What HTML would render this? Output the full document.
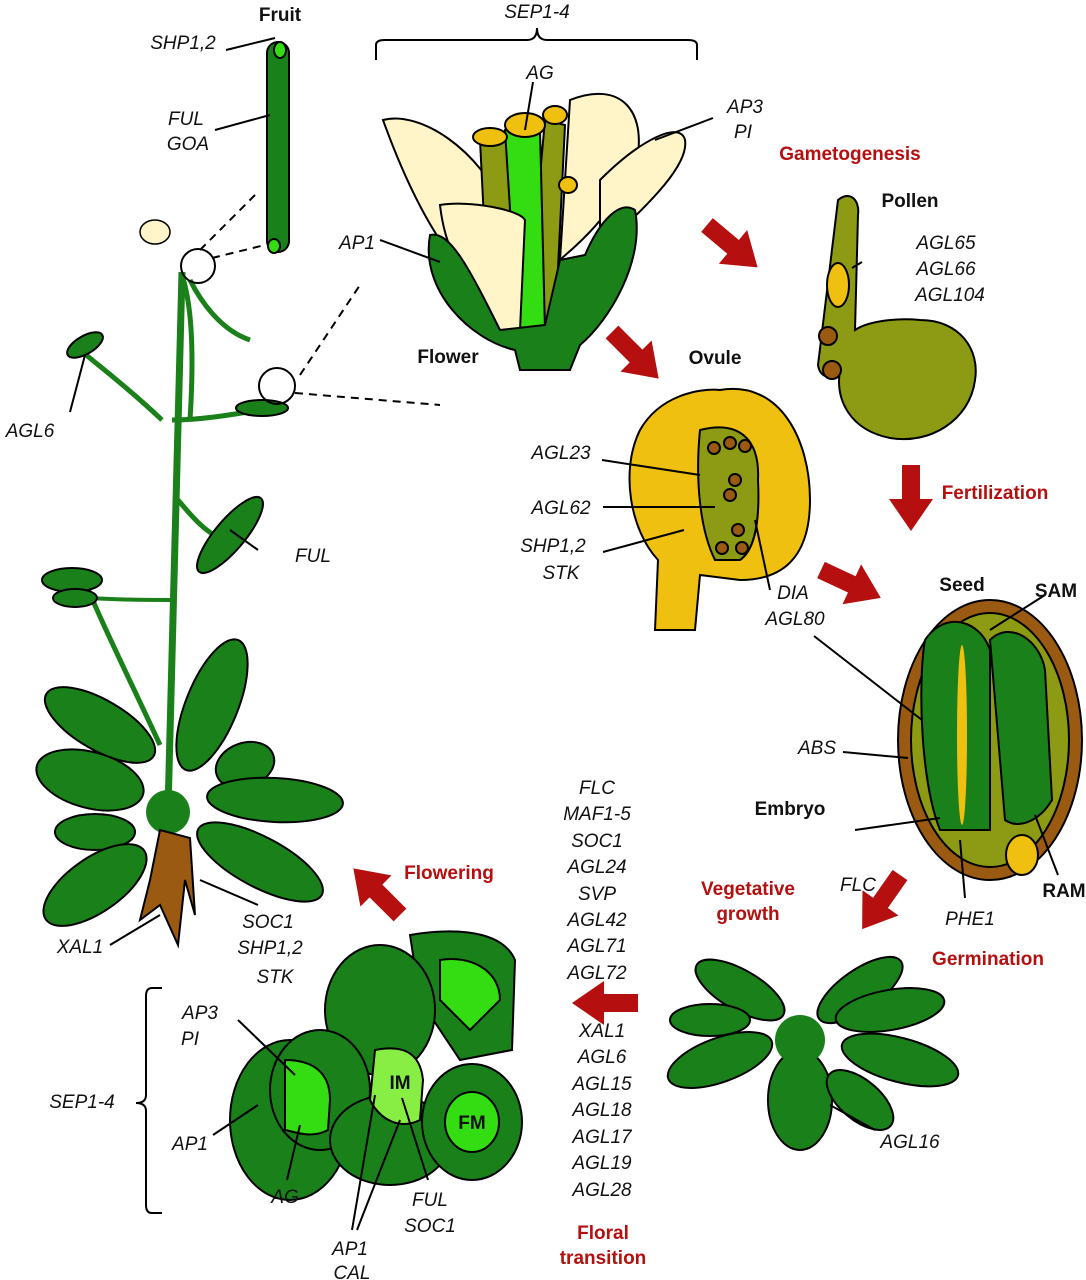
<!DOCTYPE html>
<html><head><meta charset="utf-8"><style>
html,body{margin:0;padding:0;background:#fff}
svg{display:block}
text{font-family:"Liberation Sans",Arial,sans-serif;font-size:19px;fill:#111}
.i{font-style:italic}
.b{font-weight:bold}
.r{fill:#b50f0f;font-weight:bold}
</style></head><body>
<svg width="1086" height="1280" viewBox="0 0 1086 1280" xmlns="http://www.w3.org/2000/svg">
<defs>
<g id="arr"><polygon points="0,-9 34,-9 34,-22 66,0 34,22 34,9 0,9" fill="#b50f0f"/></g>
</defs>
<g stroke="#000" stroke-width="2">
<!-- Plant stems -->
<path d="M182,272 C178,400 172,600 168,810" stroke="#1a801a" stroke-width="7" fill="none"/>
<path d="M160,745 C130,680 100,620 80,570" stroke="#1a801a" stroke-width="5" fill="none"/>
<path d="M182,275 C190,300 195,340 190,420 M162,420 C120,380 90,360 75,345 M178,500 C195,520 215,545 240,540 M190,280 C200,300 220,330 250,340" stroke="#1a801a" stroke-width="5" fill="none"/>
<path d="M172,420 C200,420 230,415 260,410" stroke="#1a801a" stroke-width="5" fill="none"/>
<path d="M170,600 C150,600 120,600 90,598" stroke="#1a801a" stroke-width="4" fill="none"/>
<!-- fruit -->
<rect x="267" y="42" width="22" height="210" rx="11" fill="#1a801a"/>
<ellipse cx="280" cy="50" rx="6" ry="8" fill="#33dd11"/>
<ellipse cx="274" cy="246" rx="6" ry="7" fill="#33dd11"/>
<!-- cauline leaves -->
<ellipse cx="85" cy="345" rx="20" ry="9" fill="#1a801a" transform="rotate(-30 85 345)"/>
<ellipse cx="262" cy="408" rx="26" ry="8" fill="#1a801a"/>
<ellipse cx="230" cy="535" rx="48" ry="15" fill="#1a801a" transform="rotate(-50 230 535)"/>
<ellipse cx="72" cy="580" rx="30" ry="12" fill="#1a801a"/>
<ellipse cx="75" cy="598" rx="22" ry="9" fill="#1a801a"/>
<!-- rosette -->
<g fill="#1a801a">
<ellipse cx="100" cy="725" rx="62" ry="25" transform="rotate(30 100 725)"/>
<ellipse cx="90" cy="780" rx="55" ry="28" transform="rotate(15 90 780)"/>
<ellipse cx="95" cy="832" rx="40" ry="18"/>
<ellipse cx="95" cy="885" rx="60" ry="27" transform="rotate(-35 95 885)"/>
<ellipse cx="212" cy="705" rx="70" ry="26" transform="rotate(-68 212 705)"/>
<ellipse cx="245" cy="765" rx="30" ry="22" transform="rotate(-20 245 765)"/>
<ellipse cx="275" cy="800" rx="68" ry="22" transform="rotate(3 275 800)"/>
<ellipse cx="260" cy="862" rx="70" ry="25" transform="rotate(28 260 862)"/>
<circle cx="168" cy="812" r="22" stroke="none"/>
</g>
<path d="M160,830 L150,880 L140,920 L160,905 L178,945 L185,880 L195,915 L190,838 Z" fill="#9a5a12"/>
<!-- flower top -->
<ellipse cx="155" cy="232" rx="15" ry="12" fill="#fff5c8" stroke-width="1.5"/>
<circle cx="198" cy="266" r="17" fill="none"/>
<circle cx="277" cy="386" r="18" fill="none"/>
<path d="M212,258 L265,245 M200,250 L255,195 M295,393 L440,405 M300,375 L360,285" stroke-dasharray="8,6" fill="none"/>

<!-- Flower -->
<path d="M383,120 C420,110 480,150 505,210 L520,310 C480,300 430,250 383,120Z" fill="#fff5c8"/>
<path d="M570,100 C620,80 650,110 635,170 C600,230 570,250 560,260 Z" fill="#fff5c8"/>
<path d="M600,180 C640,140 680,120 685,140 C690,170 630,220 600,250 Z" fill="#fff5c8"/>
<path d="M480,140 L490,340 L520,340 L510,140 Z" fill="#8c9a14"/>
<path d="M545,120 L525,340 L555,330 L565,125 Z" fill="#8c9a14"/>
<path d="M505,130 L540,130 L545,330 L518,335 Z" fill="#33dd11"/>
<ellipse cx="525" cy="125" rx="20" ry="12" fill="#f0c010"/>
<ellipse cx="490" cy="137" rx="17" ry="9" fill="#f0c010"/>
<ellipse cx="555" cy="115" rx="12" ry="9" fill="#f0c010"/>
<ellipse cx="568" cy="185" rx="9" ry="8" fill="#f0c010"/>
<path d="M440,205 C470,200 520,210 525,220 L520,330 L475,330 C460,260 445,250 440,205Z" fill="#fff5c8"/>
<path d="M430,235 C450,230 470,270 500,330 L545,325 L560,260 L585,255 C600,220 620,200 635,210 C645,260 610,320 580,345 L570,370 L520,370 L515,350 C470,340 420,290 430,235Z" fill="#1a801a"/>

<!-- Pollen -->
<path d="M838,200 C850,190 860,200 858,215 L855,330 C870,320 900,318 920,320 C960,320 980,350 975,380 C970,420 930,445 890,438 C850,430 835,400 840,370 C835,380 820,380 818,365 Z" fill="#8c9a14"/>
<ellipse cx="838" cy="285" rx="11" ry="22" fill="#f0c010"/>
<circle cx="828" cy="336" r="9" fill="#9a5a12"/>
<circle cx="832" cy="370" r="9" fill="#9a5a12"/>

<!-- Ovule -->
<path d="M720,390 C780,380 810,440 810,500 C810,560 780,580 740,580 L700,575 L695,630 L655,630 L658,560 C630,530 620,470 640,430 C660,395 700,388 720,390Z" fill="#f0c010"/>
<path d="M700,430 C740,420 760,440 758,480 C760,520 755,550 740,560 L715,560 C700,530 695,480 700,430Z" fill="#8c9a14"/>
<circle cx="714" cy="448" r="6" fill="#9a5a12"/><circle cx="730" cy="443" r="6" fill="#9a5a12"/><circle cx="745" cy="446" r="6" fill="#9a5a12"/>
<circle cx="735" cy="480" r="6" fill="#9a5a12"/><circle cx="730" cy="495" r="6" fill="#9a5a12"/>
<circle cx="738" cy="530" r="6" fill="#9a5a12"/><circle cx="722" cy="548" r="6" fill="#9a5a12"/><circle cx="742" cy="548" r="6" fill="#9a5a12"/>

<!-- Seed -->
<ellipse cx="990" cy="740" rx="92" ry="140" fill="#9a5a12"/>
<ellipse cx="990" cy="740" rx="79" ry="127" fill="#8c9a14"/>
<path d="M925,640 C945,610 980,620 990,650 L990,830 L940,830 C920,780 918,680 925,640Z" fill="#1a801a"/>
<path d="M990,640 C1010,620 1040,640 1045,670 L1052,800 C1040,820 1020,830 1005,820 Z" fill="#1a801a"/>
<ellipse cx="962" cy="735" rx="5" ry="90" fill="#f0c010" stroke="none"/>
<ellipse cx="1022" cy="855" rx="16" ry="20" fill="#f0c010"/>

<!-- Vegetative rosette -->
<g fill="#1a801a">
<ellipse cx="740" cy="990" rx="50" ry="20" transform="rotate(30 740 990)"/>
<ellipse cx="860" cy="990" rx="50" ry="20" transform="rotate(-35 860 990)"/>
<ellipse cx="720" cy="1060" rx="55" ry="22" transform="rotate(-20 720 1060)"/>
<ellipse cx="900" cy="1060" rx="60" ry="22" transform="rotate(15 900 1060)"/>
<ellipse cx="800" cy="1100" rx="32" ry="50"/>
<ellipse cx="890" cy="1010" rx="55" ry="20" transform="rotate(-10 890 1010)"/>
<ellipse cx="710" cy="1020" rx="40" ry="16"/>
<ellipse cx="860" cy="1100" rx="40" ry="20" transform="rotate(40 860 1100)"/>
<circle cx="800" cy="1040" r="25" stroke="none"/>
</g>

<!-- Meristem -->
<g fill="#1a801a">
<path d="M410,935 C440,930 500,925 515,960 L512,1050 L460,1060 L420,1000Z"/>
<ellipse cx="380" cy="1010" rx="55" ry="65"/>
<ellipse cx="290" cy="1120" rx="60" ry="80"/>
<ellipse cx="320" cy="1090" rx="50" ry="60"/>
<ellipse cx="390" cy="1140" rx="60" ry="45"/>
<ellipse cx="472" cy="1122" rx="50" ry="58"/>
</g>
<path d="M440,960 C470,955 500,970 500,1000 L470,1030 L440,1000Z" fill="#33dd11"/>
<path d="M285,1060 C310,1060 330,1070 330,1100 L328,1130 C310,1140 290,1130 285,1130Z" fill="#33dd11"/>
<path d="M375,1050 C400,1045 420,1050 423,1080 L420,1120 C400,1130 380,1120 370,1100Z" fill="#88ee44"/>
<ellipse cx="472" cy="1122" rx="27" ry="30" fill="#33dd11"/>

<!-- leader lines -->
<g fill="none" stroke-width="2">
<path d="M226,50 L275,38 M215,130 L270,115 M533,82 L525,130 M713,118 L655,140 M380,240 L440,262"/>
<path d="M862,262 L852,268 M602,460 L700,475 M603,507 L715,507 M603,552 L684,530 M770,590 L755,520"/>
<path d="M70,412 L85,355 M258,550 L230,530 M814,636 L922,720 M843,752 L908,758 M855,830 L940,818"/>
<path d="M1045,595 L990,630 M1058,875 L1035,815 M965,898 L960,840 M110,945 L160,915 M258,905 L200,880"/>
<path d="M238,1020 L295,1075 M213,1135 L258,1105 M287,1180 L300,1125 M352,1230 L375,1095 M357,1230 L400,1120 M428,1180 L402,1098 M875,1130 L830,1105"/>
</g>
<!-- braces -->
<path d="M376,60 L376,45 Q376,40 385,40 L527,40 Q537,40 537,28 Q537,40 547,40 L688,40 Q697,40 697,45 L697,60" fill="none"/>
<path d="M162,988 L152,988 Q146,988 146,996 L146,1095 Q146,1103 136,1103 Q146,1103 146,1111 L146,1205 Q146,1213 152,1213 L162,1213" fill="none"/>
</g>
<!-- red arrows -->
<use href="#arr" transform="translate(707,225) rotate(40)"/>
<use href="#arr" transform="translate(612,332) rotate(45)"/>
<use href="#arr" transform="translate(911,465) rotate(90)"/>
<use href="#arr" transform="translate(821,570) rotate(25)"/>
<use href="#arr" transform="translate(900,875) rotate(125)"/>
<use href="#arr" transform="translate(638,1003) rotate(180)"/>
<use href="#arr" transform="translate(400,915) rotate(-135)"/>

<!-- text -->
<g text-anchor="middle">
<text x="280" y="21" class="b">Fruit</text>
<text x="537" y="18" class="i">SEP1-4</text>
<text x="540" y="79" class="i">AG</text>
<text x="745" y="113" class="i">AP3</text>
<text x="743" y="138" class="i">PI</text>
<text x="850" y="160" class="r">Gametogenesis</text>
<text x="910" y="207" class="b">Pollen</text>
<text x="946" y="249" class="i">AGL65</text>
<text x="946" y="275" class="i">AGL66</text>
<text x="950" y="301" class="i">AGL104</text>
<text x="357" y="249" class="i">AP1</text>
<text x="448" y="363" class="b">Flower</text>
<text x="715" y="364" class="b">Ovule</text>
<text x="30" y="437" class="i">AGL6</text>
<text x="561" y="459" class="i">AGL23</text>
<text x="561" y="514" class="i">AGL62</text>
<text x="553" y="552" class="i">SHP1,2</text>
<text x="561" y="579" class="i">STK</text>
<text x="995" y="499" class="r">Fertilization</text>
<text x="313" y="562" class="i">FUL</text>
<text x="793" y="599" class="i">DIA</text>
<text x="795" y="625" class="i">AGL80</text>
<text x="962" y="591" class="b">Seed</text>
<text x="1056" y="597" class="b">SAM</text>
<text x="817" y="754" class="i">ABS</text>
<text x="790" y="815" class="b">Embryo</text>
<text x="1064" y="897" class="b">RAM</text>
<text x="449" y="879" class="r">Flowering</text>
<text x="748" y="895" class="r">Vegetative</text>
<text x="748" y="920" class="r">growth</text>
<text x="858" y="891" class="i">FLC</text>
<text x="970" y="925" class="i">PHE1</text>
<text x="988" y="965" class="r">Germination</text>
<text x="268" y="928" class="i">SOC1</text>
<text x="270" y="954" class="i">SHP1,2</text>
<text x="275" y="983" class="i">STK</text>
<text x="80" y="953" class="i">XAL1</text>
<text x="200" y="1019" class="i">AP3</text>
<text x="190" y="1045" class="i">PI</text>
<text x="82" y="1108" class="i">SEP1-4</text>
<text x="190" y="1150" class="i">AP1</text>
<text x="285" y="1203" class="i">AG</text>
<text x="400" y="1089" class="b">IM</text>
<text x="472" y="1129" class="b">FM</text>
<text x="430" y="1206" class="i">FUL</text>
<text x="430" y="1232" class="i">SOC1</text>
<text x="350" y="1255" class="i">AP1</text>
<text x="352" y="1279" class="i">CAL</text>
<text x="910" y="1148" class="i">AGL16</text>
<text x="603" y="1239" class="r">Floral</text>
<text x="603" y="1264" class="r">transition</text>
<text x="183" y="49" class="i">SHP1,2</text>
<text x="186" y="125" class="i">FUL</text>
<text x="188" y="150" class="i">GOA</text>
<text x="597" y="794" class="i">FLC</text>
<text x="597" y="820" class="i">MAF1-5</text>
<text x="597" y="847" class="i">SOC1</text>
<text x="597" y="873" class="i">AGL24</text>
<text x="597" y="900" class="i">SVP</text>
<text x="597" y="926" class="i">AGL42</text>
<text x="597" y="952" class="i">AGL71</text>
<text x="597" y="979" class="i">AGL72</text>
<text x="602" y="1037" class="i">XAL1</text>
<text x="602" y="1063" class="i">AGL6</text>
<text x="602" y="1090" class="i">AGL15</text>
<text x="602" y="1116" class="i">AGL18</text>
<text x="602" y="1143" class="i">AGL17</text>
<text x="602" y="1169" class="i">AGL19</text>
<text x="602" y="1196" class="i">AGL28</text>
</g>
</svg>
</body></html>
